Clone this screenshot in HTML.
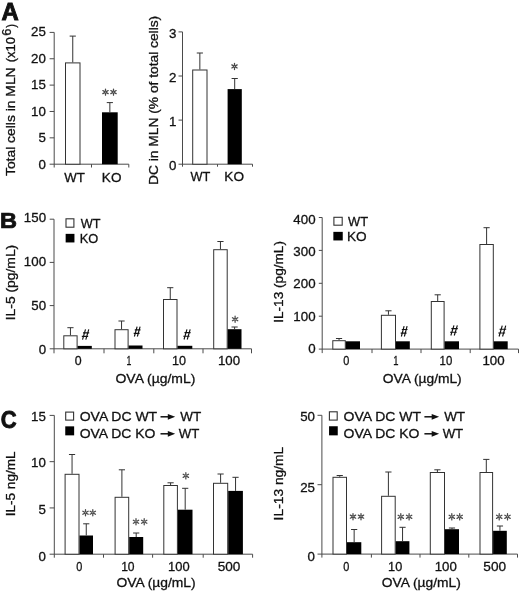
<!DOCTYPE html>
<html><head><meta charset="utf-8"><style>
html,body{margin:0;padding:0;background:#fff;}
svg{display:block;filter:blur(0.3px);}
text{font-family:"Liberation Sans",sans-serif;stroke:#111;stroke-width:0.3px;}
</style></head><body>
<svg width="520" height="592" viewBox="0 0 520 592">
<rect width="520" height="592" fill="#fff"/>
<text transform="translate(1.45,19.80) scale(0.9938,1.0006)" font-size="24" font-weight="bold" fill="#111" style="stroke-width:0.91px">A</text>
<line x1="54.20" y1="32.40" x2="54.20" y2="167.50" stroke="#4a4a4a" stroke-width="1"/>
<line x1="49.60" y1="32.40" x2="54.20" y2="32.40" stroke="#4a4a4a" stroke-width="1"/>
<line x1="49.60" y1="58.76" x2="54.20" y2="58.76" stroke="#4a4a4a" stroke-width="1"/>
<line x1="49.60" y1="85.12" x2="54.20" y2="85.12" stroke="#4a4a4a" stroke-width="1"/>
<line x1="49.60" y1="111.48" x2="54.20" y2="111.48" stroke="#4a4a4a" stroke-width="1"/>
<line x1="49.60" y1="137.84" x2="54.20" y2="137.84" stroke="#4a4a4a" stroke-width="1"/>
<line x1="49.60" y1="164.20" x2="54.20" y2="164.20" stroke="#4a4a4a" stroke-width="1"/>
<line x1="54.20" y1="164.20" x2="128.80" y2="164.20" stroke="#4a4a4a" stroke-width="1"/>
<line x1="91.50" y1="164.20" x2="91.50" y2="167.50" stroke="#4a4a4a" stroke-width="1"/>
<line x1="128.80" y1="164.20" x2="128.80" y2="167.50" stroke="#4a4a4a" stroke-width="1"/>
<text x="31.12" y="36.25" font-size="13.3" fill="#111">25</text>
<text x="31.05" y="62.73" font-size="13.3" fill="#111">20</text>
<text x="31.12" y="89.21" font-size="13.3" fill="#111">15</text>
<text x="31.05" y="115.69" font-size="13.3" fill="#111">10</text>
<text x="38.50" y="142.17" font-size="13.3" fill="#111">5</text>
<text x="38.43" y="168.65" font-size="13.3" fill="#111">0</text>
<rect x="65.50" y="62.90" width="14.50" height="101.30" fill="#fff" stroke="#333" stroke-width="1"/>
<path d="M72.75 62.40V36.10M69.65 36.10H75.85" stroke="#333" stroke-width="1" fill="none"/>
<rect x="102.00" y="112.30" width="15.70" height="51.90" fill="#000"/>
<path d="M109.85 112.30V102.60M106.75 102.60H112.95" stroke="#333" stroke-width="1" fill="none"/>
<path d="M105.50 91.10L105.50 89.00M106.37 91.60L108.18 90.55M106.37 92.60L108.18 93.65M105.50 93.10L105.50 95.20M104.63 92.60L102.82 93.65M104.63 91.60L102.82 90.55" stroke="#4a4a4a" stroke-width="1.25" stroke-linecap="round" fill="none"/>
<path d="M113.50 91.10L113.50 89.00M114.37 91.60L116.18 90.55M114.37 92.60L116.18 93.65M113.50 93.10L113.50 95.20M112.63 92.60L110.82 93.65M112.63 91.60L110.82 90.55" stroke="#4a4a4a" stroke-width="1.25" stroke-linecap="round" fill="none"/>
<text transform="translate(64.20,182.40) scale(0.9894,1.0000)" font-size="13.4"  fill="#111">WT</text>
<text transform="translate(101.87,182.40) scale(1.0102,1.0000)" font-size="13.4"  fill="#111">KO</text>
<text transform="translate(14.80,176.03) rotate(-90) scale(1.0512,1)" font-size="13.2" fill="#111">Total cells in MLN</text>
<text transform="translate(14.80,62.33) rotate(-90) scale(0.9869,1)" font-size="13.2" fill="#111">(x10</text>
<text transform="translate(11.00,35.70) rotate(-90) scale(0.9775,1)" font-size="13.2" fill="#111">6</text>
<text transform="translate(14.80,27.81) rotate(-90) scale(0.8418,1)" font-size="13.2" fill="#111">)</text>
<line x1="182.50" y1="31.90" x2="182.50" y2="166.70" stroke="#4a4a4a" stroke-width="1"/>
<line x1="178.50" y1="31.90" x2="182.50" y2="31.90" stroke="#4a4a4a" stroke-width="1"/>
<line x1="178.50" y1="76.00" x2="182.50" y2="76.00" stroke="#4a4a4a" stroke-width="1"/>
<line x1="178.50" y1="120.10" x2="182.50" y2="120.10" stroke="#4a4a4a" stroke-width="1"/>
<line x1="178.50" y1="164.20" x2="182.50" y2="164.20" stroke="#4a4a4a" stroke-width="1"/>
<line x1="182.50" y1="164.20" x2="252.50" y2="164.20" stroke="#4a4a4a" stroke-width="1"/>
<line x1="217.50" y1="164.20" x2="217.50" y2="166.70" stroke="#4a4a4a" stroke-width="1"/>
<line x1="252.50" y1="164.20" x2="252.50" y2="166.70" stroke="#4a4a4a" stroke-width="1"/>
<text x="169.00" y="38.15" font-size="13.3" fill="#111">3</text>
<text x="169.07" y="82.25" font-size="13.3" fill="#111">2</text>
<text x="169.07" y="126.35" font-size="13.3" fill="#111">1</text>
<text x="168.93" y="170.45" font-size="13.3" fill="#111">0</text>
<rect x="192.70" y="70.00" width="14.30" height="94.20" fill="#fff" stroke="#333" stroke-width="1"/>
<path d="M199.85 69.50V53.00M196.75 53.00H202.95" stroke="#333" stroke-width="1" fill="none"/>
<rect x="227.60" y="89.10" width="14.20" height="75.10" fill="#000"/>
<path d="M234.70 89.10V78.50M231.60 78.50H237.80" stroke="#333" stroke-width="1" fill="none"/>
<path d="M234.50 65.40L234.50 63.30M235.37 65.90L237.18 64.85M235.37 66.90L237.18 67.95M234.50 67.40L234.50 69.50M233.63 66.90L231.82 67.95M233.63 65.90L231.82 64.85" stroke="#4a4a4a" stroke-width="1.25" stroke-linecap="round" fill="none"/>
<text transform="translate(190.45,181.30) scale(0.9529,1.0000)" font-size="13.4"  fill="#111">WT</text>
<text transform="translate(224.36,181.30) scale(1.0158,1.0000)" font-size="13.4"  fill="#111">KO</text>
<text transform="translate(158.20,184.95) rotate(-90) scale(1.0442,1)" font-size="13.2" fill="#111">DC in MLN (% of total cells)</text>
<text transform="translate(0.12,227.90) scale(1.0717,0.9854)" font-size="22" font-weight="bold" fill="#111" style="stroke-width:0.75px">B</text>
<line x1="54.00" y1="219.20" x2="54.00" y2="353.30" stroke="#4a4a4a" stroke-width="1"/>
<line x1="49.70" y1="219.20" x2="54.00" y2="219.20" stroke="#4a4a4a" stroke-width="1"/>
<line x1="49.70" y1="262.40" x2="54.00" y2="262.40" stroke="#4a4a4a" stroke-width="1"/>
<line x1="49.70" y1="305.60" x2="54.00" y2="305.60" stroke="#4a4a4a" stroke-width="1"/>
<line x1="49.70" y1="348.80" x2="54.00" y2="348.80" stroke="#4a4a4a" stroke-width="1"/>
<line x1="54.00" y1="348.80" x2="251.50" y2="348.80" stroke="#4a4a4a" stroke-width="1"/>
<line x1="104.00" y1="348.80" x2="104.00" y2="353.30" stroke="#4a4a4a" stroke-width="1"/>
<line x1="153.80" y1="348.80" x2="153.80" y2="353.30" stroke="#4a4a4a" stroke-width="1"/>
<line x1="203.00" y1="348.80" x2="203.00" y2="353.30" stroke="#4a4a4a" stroke-width="1"/>
<line x1="251.50" y1="348.80" x2="251.50" y2="353.30" stroke="#4a4a4a" stroke-width="1"/>
<text x="23.87" y="222.05" font-size="13.3" fill="#111">150</text>
<text x="23.87" y="265.92" font-size="13.3" fill="#111">100</text>
<text x="31.25" y="309.78" font-size="13.3" fill="#111">50</text>
<text x="38.63" y="353.65" font-size="13.3" fill="#111">0</text>
<rect x="63.80" y="335.80" width="13.30" height="13.00" fill="#fff" stroke="#333" stroke-width="1"/>
<path d="M70.45 335.30V327.70M67.35 327.70H73.55" stroke="#333" stroke-width="1" fill="none"/>
<rect x="77.60" y="345.90" width="14.20" height="2.90" fill="#000"/>
<rect x="115.00" y="329.70" width="13.10" height="19.10" fill="#fff" stroke="#333" stroke-width="1"/>
<path d="M121.55 329.20V321.00M118.45 321.00H124.65" stroke="#333" stroke-width="1" fill="none"/>
<rect x="128.60" y="345.50" width="13.90" height="3.30" fill="#000"/>
<rect x="163.50" y="299.50" width="13.50" height="49.30" fill="#fff" stroke="#333" stroke-width="1"/>
<path d="M170.25 299.00V287.70M167.15 287.70H173.35" stroke="#333" stroke-width="1" fill="none"/>
<rect x="177.50" y="345.80" width="14.80" height="3.00" fill="#000"/>
<rect x="213.70" y="249.70" width="13.50" height="99.10" fill="#fff" stroke="#333" stroke-width="1"/>
<path d="M220.45 249.20V241.50M217.35 241.50H223.55" stroke="#333" stroke-width="1" fill="none"/>
<rect x="227.70" y="329.20" width="13.80" height="19.60" fill="#000"/>
<path d="M234.60 329.20V327.00M231.50 327.00H237.70" stroke="#333" stroke-width="1" fill="none"/>
<path d="M82.54 339.70L85.50 329.40M85.80 339.70L88.76 329.40M82.98 332.80L89.20 332.80M81.80 336.40L88.16 336.40" stroke="#111" stroke-width="1.15" fill="none"/>
<path d="M134.38 336.50L137.10 326.60M137.37 336.50L140.09 326.60M134.79 329.87L140.50 329.87M133.70 333.33L139.55 333.33" stroke="#111" stroke-width="1.15" fill="none"/>
<path d="M184.03 339.50L186.95 329.30M187.24 339.50L190.16 329.30M184.47 332.67L190.60 332.67M183.30 336.24L189.58 336.24" stroke="#111" stroke-width="1.15" fill="none"/>
<path d="M235.10 318.25L235.10 316.15M235.97 318.75L237.78 317.70M235.97 319.75L237.78 320.80M235.10 320.25L235.10 322.35M234.23 319.75L232.42 320.80M234.23 318.75L232.42 317.70" stroke="#4a4a4a" stroke-width="1.25" stroke-linecap="round" fill="none"/>
<rect x="66.00" y="218.80" width="7.90" height="8.40" fill="#fff" stroke="#333" stroke-width="1.1"/>
<text transform="translate(80.75,227.60) scale(0.9480,1.0000)" font-size="13.4"  fill="#111">WT</text>
<rect x="65.65" y="233.85" width="8.80" height="8.60" fill="#000"/>
<text transform="translate(79.72,243.00) scale(0.9591,1.0000)" font-size="13.4"  fill="#111">KO</text>
<text transform="translate(74.72,364.70) scale(0.9232,1.0000)" font-size="13.4"  fill="#111">0</text>
<text transform="translate(126.39,364.70) scale(0.6519,1.0000)" font-size="13.4"  fill="#111">1</text>
<text transform="translate(172.10,364.70) scale(0.9403,1.0000)" font-size="13.4"  fill="#111">10</text>
<text transform="translate(217.96,364.70) scale(0.9886,1.0000)" font-size="13.4"  fill="#111">100</text>
<text transform="translate(115.52,382.50) scale(1.0415,1.0000)" font-size="13.4"  fill="#111">OVA (µg/mL)</text>
<text transform="translate(14.80,320.30) rotate(-90) scale(1.0520,1)" font-size="13.2" fill="#111">IL-5 (pg/mL)</text>
<line x1="322.20" y1="217.50" x2="322.20" y2="353.10" stroke="#4a4a4a" stroke-width="1"/>
<line x1="318.80" y1="217.50" x2="322.20" y2="217.50" stroke="#4a4a4a" stroke-width="1"/>
<line x1="318.80" y1="250.40" x2="322.20" y2="250.40" stroke="#4a4a4a" stroke-width="1"/>
<line x1="318.80" y1="283.30" x2="322.20" y2="283.30" stroke="#4a4a4a" stroke-width="1"/>
<line x1="318.80" y1="316.20" x2="322.20" y2="316.20" stroke="#4a4a4a" stroke-width="1"/>
<line x1="318.80" y1="349.10" x2="322.20" y2="349.10" stroke="#4a4a4a" stroke-width="1"/>
<line x1="322.20" y1="349.10" x2="518.50" y2="349.10" stroke="#4a4a4a" stroke-width="1"/>
<line x1="372.00" y1="349.10" x2="372.00" y2="353.10" stroke="#4a4a4a" stroke-width="1"/>
<line x1="421.00" y1="349.10" x2="421.00" y2="353.10" stroke="#4a4a4a" stroke-width="1"/>
<line x1="470.20" y1="349.10" x2="470.20" y2="353.10" stroke="#4a4a4a" stroke-width="1"/>
<line x1="518.50" y1="349.10" x2="518.50" y2="353.10" stroke="#4a4a4a" stroke-width="1"/>
<text x="293.37" y="223.55" font-size="13.3" fill="#111">400</text>
<text x="293.37" y="255.98" font-size="13.3" fill="#111">300</text>
<text x="293.37" y="288.40" font-size="13.3" fill="#111">200</text>
<text x="293.37" y="320.82" font-size="13.3" fill="#111">100</text>
<text x="308.13" y="353.25" font-size="13.3" fill="#111">0</text>
<rect x="332.80" y="340.70" width="12.50" height="8.40" fill="#fff" stroke="#333" stroke-width="1"/>
<path d="M339.05 340.20V338.50M335.95 338.50H342.15" stroke="#333" stroke-width="1" fill="none"/>
<rect x="345.80" y="341.30" width="14.20" height="7.80" fill="#000"/>
<rect x="381.40" y="315.30" width="14.10" height="33.80" fill="#fff" stroke="#333" stroke-width="1"/>
<path d="M388.45 314.80V310.80M385.35 310.80H391.55" stroke="#333" stroke-width="1" fill="none"/>
<rect x="396.00" y="341.30" width="13.80" height="7.80" fill="#000"/>
<rect x="431.30" y="301.50" width="12.80" height="47.60" fill="#fff" stroke="#333" stroke-width="1"/>
<path d="M437.70 301.00V294.80M434.60 294.80H440.80" stroke="#333" stroke-width="1" fill="none"/>
<rect x="444.60" y="341.30" width="14.40" height="7.80" fill="#000"/>
<rect x="479.90" y="244.50" width="13.40" height="104.60" fill="#fff" stroke="#333" stroke-width="1"/>
<path d="M486.60 244.00V227.70M483.50 227.70H489.70" stroke="#333" stroke-width="1" fill="none"/>
<rect x="493.80" y="341.30" width="13.90" height="7.80" fill="#000"/>
<path d="M401.38 336.50L404.10 326.10M404.37 336.50L407.09 326.10M401.79 329.53L407.50 329.53M400.70 333.17L406.55 333.17" stroke="#111" stroke-width="1.15" fill="none"/>
<path d="M450.87 335.50L453.95 325.30M454.26 335.50L457.34 325.30M451.33 328.67L457.80 328.67M450.10 332.24L456.72 332.24" stroke="#111" stroke-width="1.15" fill="none"/>
<path d="M499.09 336.50L502.25 325.70M502.57 336.50L505.73 325.70M499.56 329.26L506.20 329.26M498.30 333.04L505.09 333.04" stroke="#111" stroke-width="1.15" fill="none"/>
<rect x="333.90" y="217.30" width="8.30" height="7.90" fill="#fff" stroke="#333" stroke-width="1.1"/>
<text transform="translate(348.05,225.60) scale(0.9626,1.0000)" font-size="13.4"  fill="#111">WT</text>
<rect x="333.35" y="231.85" width="9.40" height="8.60" fill="#000"/>
<text transform="translate(346.96,240.50) scale(1.0158,1.0000)" font-size="13.4"  fill="#111">KO</text>
<text transform="translate(343.37,364.70) scale(0.8155,1.0000)" font-size="13.4"  fill="#111">0</text>
<text transform="translate(393.24,364.70) scale(0.7034,1.0000)" font-size="13.4"  fill="#111">1</text>
<text transform="translate(439.59,364.70) scale(0.8507,1.0000)" font-size="13.4"  fill="#111">10</text>
<text transform="translate(482.45,364.70) scale(0.9934,1.0000)" font-size="13.4"  fill="#111">100</text>
<text transform="translate(382.83,382.50) scale(1.0295,1.0000)" font-size="13.4"  fill="#111">OVA (µg/mL)</text>
<text transform="translate(282.60,322.78) rotate(-90) scale(1.0325,1)" font-size="13.2" fill="#111">IL-13 (pg/mL)</text>
<text transform="translate(0.87,427.90) scale(0.9993,1.1020)" font-size="22" font-weight="bold" fill="#111" style="stroke-width:0.80px">C</text>
<line x1="54.30" y1="415.40" x2="54.30" y2="557.70" stroke="#4a4a4a" stroke-width="1"/>
<line x1="49.60" y1="415.40" x2="54.30" y2="415.40" stroke="#4a4a4a" stroke-width="1"/>
<line x1="49.60" y1="461.67" x2="54.30" y2="461.67" stroke="#4a4a4a" stroke-width="1"/>
<line x1="49.60" y1="507.93" x2="54.30" y2="507.93" stroke="#4a4a4a" stroke-width="1"/>
<line x1="49.60" y1="554.20" x2="54.30" y2="554.20" stroke="#4a4a4a" stroke-width="1"/>
<line x1="54.30" y1="554.20" x2="252.60" y2="554.20" stroke="#4a4a4a" stroke-width="1"/>
<line x1="103.50" y1="554.20" x2="103.50" y2="557.70" stroke="#4a4a4a" stroke-width="1"/>
<line x1="152.60" y1="554.20" x2="152.60" y2="557.70" stroke="#4a4a4a" stroke-width="1"/>
<line x1="203.20" y1="554.20" x2="203.20" y2="557.70" stroke="#4a4a4a" stroke-width="1"/>
<line x1="252.60" y1="554.20" x2="252.60" y2="557.70" stroke="#4a4a4a" stroke-width="1"/>
<text x="31.12" y="420.50" font-size="13.3" fill="#111">15</text>
<text x="31.05" y="467.25" font-size="13.3" fill="#111">10</text>
<text x="38.50" y="514.00" font-size="13.3" fill="#111">5</text>
<text x="38.43" y="560.75" font-size="13.3" fill="#111">0</text>
<rect x="65.10" y="474.30" width="13.90" height="79.90" fill="#fff" stroke="#333" stroke-width="1"/>
<path d="M72.05 473.80V454.50M68.95 454.50H75.15" stroke="#333" stroke-width="1" fill="none"/>
<rect x="79.50" y="535.50" width="13.50" height="18.70" fill="#000"/>
<path d="M86.25 535.50V523.80M83.15 523.80H89.35" stroke="#333" stroke-width="1" fill="none"/>
<rect x="115.10" y="497.30" width="13.60" height="56.90" fill="#fff" stroke="#333" stroke-width="1"/>
<path d="M121.90 496.80V469.80M118.80 469.80H125.00" stroke="#333" stroke-width="1" fill="none"/>
<rect x="129.20" y="537.00" width="14.00" height="17.20" fill="#000"/>
<path d="M136.20 537.00V533.00M133.10 533.00H139.30" stroke="#333" stroke-width="1" fill="none"/>
<rect x="163.80" y="485.50" width="13.60" height="68.70" fill="#fff" stroke="#333" stroke-width="1"/>
<path d="M170.60 485.00V482.80M167.50 482.80H173.70" stroke="#333" stroke-width="1" fill="none"/>
<rect x="177.90" y="509.70" width="14.60" height="44.50" fill="#000"/>
<path d="M185.20 509.70V488.30M182.10 488.30H188.30" stroke="#333" stroke-width="1" fill="none"/>
<rect x="213.50" y="483.30" width="14.20" height="70.90" fill="#fff" stroke="#333" stroke-width="1"/>
<path d="M220.60 482.80V474.00M217.50 474.00H223.70" stroke="#333" stroke-width="1" fill="none"/>
<rect x="228.20" y="490.90" width="14.70" height="63.30" fill="#000"/>
<path d="M235.55 490.90V477.30M232.45 477.30H238.65" stroke="#333" stroke-width="1" fill="none"/>
<path d="M85.50 511.75L85.50 509.65M86.37 512.25L88.18 511.20M86.37 513.25L88.18 514.30M85.50 513.75L85.50 515.85M84.63 513.25L82.82 514.30M84.63 512.25L82.82 511.20" stroke="#4a4a4a" stroke-width="1.25" stroke-linecap="round" fill="none"/>
<path d="M92.80 511.75L92.80 509.65M93.67 512.25L95.48 511.20M93.67 513.25L95.48 514.30M92.80 513.75L92.80 515.85M91.93 513.25L90.12 514.30M91.93 512.25L90.12 511.20" stroke="#4a4a4a" stroke-width="1.25" stroke-linecap="round" fill="none"/>
<path d="M136.00 520.75L136.00 518.65M136.87 521.25L138.68 520.20M136.87 522.25L138.68 523.30M136.00 522.75L136.00 524.85M135.13 522.25L133.32 523.30M135.13 521.25L133.32 520.20" stroke="#4a4a4a" stroke-width="1.25" stroke-linecap="round" fill="none"/>
<path d="M144.20 520.75L144.20 518.65M145.07 521.25L146.88 520.20M145.07 522.25L146.88 523.30M144.20 522.75L144.20 524.85M143.33 522.25L141.52 523.30M143.33 521.25L141.52 520.20" stroke="#4a4a4a" stroke-width="1.25" stroke-linecap="round" fill="none"/>
<path d="M185.85 474.80L185.85 472.70M186.72 475.30L188.53 474.25M186.72 476.30L188.53 477.35M185.85 476.80L185.85 478.90M184.98 476.30L183.17 477.35M184.98 475.30L183.17 474.25" stroke="#4a4a4a" stroke-width="1.25" stroke-linecap="round" fill="none"/>
<rect x="65.70" y="412.10" width="7.90" height="8.00" fill="#fff" stroke="#333" stroke-width="1.1"/>
<rect x="65.25" y="426.35" width="8.90" height="9.00" fill="#000"/>
<text transform="translate(79.72,420.90) scale(1.0450,1.0000)" font-size="13.4"  fill="#111">OVA DC WT</text>
<path d="M160.50 416.80H168.30" stroke="#111" stroke-width="1.5"/>
<path d="M167.80 413.90L175.20 416.80L167.80 419.70Z" fill="#111"/>
<text transform="translate(180.25,420.90) scale(1.0064,1.0000)" font-size="13.4"  fill="#111">WT</text>
<text transform="translate(79.72,438.20) scale(1.0421,1.0000)" font-size="13.4"  fill="#111">OVA DC KO</text>
<path d="M160.50 433.80H168.30" stroke="#111" stroke-width="1.5"/>
<path d="M167.80 430.90L175.20 433.80L167.80 436.70Z" fill="#111"/>
<text transform="translate(178.75,438.20) scale(0.9869,1.0000)" font-size="13.4"  fill="#111">WT</text>
<text transform="translate(76.37,570.80) scale(0.8155,1.0000)" font-size="13.4"  fill="#111">0</text>
<text transform="translate(121.14,570.80) scale(0.9030,1.0000)" font-size="13.4"  fill="#111">10</text>
<text transform="translate(168.08,570.80) scale(0.9646,1.0000)" font-size="13.4"  fill="#111">100</text>
<text transform="translate(217.71,570.80) scale(1.0138,1.0000)" font-size="13.4"  fill="#111">500</text>
<text transform="translate(116.43,587.10) scale(1.0335,1.0000)" font-size="13.4"  fill="#111">OVA (µg/mL)</text>
<text transform="translate(14.80,516.37) rotate(-90) scale(1.0307,1)" font-size="13.2" fill="#111">IL-5 ng/mL</text>
<line x1="321.90" y1="415.30" x2="321.90" y2="557.60" stroke="#4a4a4a" stroke-width="1"/>
<line x1="317.50" y1="415.30" x2="321.90" y2="415.30" stroke="#4a4a4a" stroke-width="1"/>
<line x1="317.50" y1="484.70" x2="321.90" y2="484.70" stroke="#4a4a4a" stroke-width="1"/>
<line x1="317.50" y1="554.10" x2="321.90" y2="554.10" stroke="#4a4a4a" stroke-width="1"/>
<line x1="321.90" y1="554.10" x2="517.50" y2="554.10" stroke="#4a4a4a" stroke-width="1"/>
<line x1="371.40" y1="554.10" x2="371.40" y2="557.60" stroke="#4a4a4a" stroke-width="1"/>
<line x1="420.00" y1="554.10" x2="420.00" y2="557.60" stroke="#4a4a4a" stroke-width="1"/>
<line x1="468.80" y1="554.10" x2="468.80" y2="557.60" stroke="#4a4a4a" stroke-width="1"/>
<line x1="517.50" y1="554.10" x2="517.50" y2="557.60" stroke="#4a4a4a" stroke-width="1"/>
<text x="300.15" y="420.60" font-size="13.3" fill="#111">50</text>
<text x="300.22" y="491.70" font-size="13.3" fill="#111">25</text>
<text x="307.53" y="560.50" font-size="13.3" fill="#111">0</text>
<rect x="333.00" y="477.30" width="13.50" height="76.80" fill="#fff" stroke="#333" stroke-width="1"/>
<path d="M339.75 476.80V475.50M336.65 475.50H342.85" stroke="#333" stroke-width="1" fill="none"/>
<rect x="347.00" y="542.20" width="14.30" height="11.90" fill="#000"/>
<path d="M354.15 542.20V529.50M351.05 529.50H357.25" stroke="#333" stroke-width="1" fill="none"/>
<rect x="381.60" y="496.30" width="13.60" height="57.80" fill="#fff" stroke="#333" stroke-width="1"/>
<path d="M388.40 495.80V472.00M385.30 472.00H391.50" stroke="#333" stroke-width="1" fill="none"/>
<rect x="395.70" y="541.20" width="13.70" height="12.90" fill="#000"/>
<path d="M402.55 541.20V527.30M399.45 527.30H405.65" stroke="#333" stroke-width="1" fill="none"/>
<rect x="430.30" y="472.50" width="14.20" height="81.60" fill="#fff" stroke="#333" stroke-width="1"/>
<path d="M437.40 472.00V469.80M434.30 469.80H440.50" stroke="#333" stroke-width="1" fill="none"/>
<rect x="445.00" y="529.20" width="14.00" height="24.90" fill="#000"/>
<path d="M452.00 529.20V528.00M448.90 528.00H455.10" stroke="#333" stroke-width="1" fill="none"/>
<rect x="480.00" y="472.50" width="12.60" height="81.60" fill="#fff" stroke="#333" stroke-width="1"/>
<path d="M486.30 472.00V459.40M483.20 459.40H489.40" stroke="#333" stroke-width="1" fill="none"/>
<rect x="493.10" y="530.80" width="13.70" height="23.30" fill="#000"/>
<path d="M499.95 530.80V526.00M496.85 526.00H503.05" stroke="#333" stroke-width="1" fill="none"/>
<path d="M353.00 515.65L353.00 513.55M353.87 516.15L355.68 515.10M353.87 517.15L355.68 518.20M353.00 517.65L353.00 519.75M352.13 517.15L350.32 518.20M352.13 516.15L350.32 515.10" stroke="#4a4a4a" stroke-width="1.25" stroke-linecap="round" fill="none"/>
<path d="M361.00 515.65L361.00 513.55M361.87 516.15L363.68 515.10M361.87 517.15L363.68 518.20M361.00 517.65L361.00 519.75M360.13 517.15L358.32 518.20M360.13 516.15L358.32 515.10" stroke="#4a4a4a" stroke-width="1.25" stroke-linecap="round" fill="none"/>
<path d="M400.80 515.80L400.80 513.70M401.67 516.30L403.48 515.25M401.67 517.30L403.48 518.35M400.80 517.80L400.80 519.90M399.93 517.30L398.12 518.35M399.93 516.30L398.12 515.25" stroke="#4a4a4a" stroke-width="1.25" stroke-linecap="round" fill="none"/>
<path d="M409.10 515.80L409.10 513.70M409.97 516.30L411.78 515.25M409.97 517.30L411.78 518.35M409.10 517.80L409.10 519.90M408.23 517.30L406.42 518.35M408.23 516.30L406.42 515.25" stroke="#4a4a4a" stroke-width="1.25" stroke-linecap="round" fill="none"/>
<path d="M451.80 515.80L451.80 513.70M452.67 516.30L454.48 515.25M452.67 517.30L454.48 518.35M451.80 517.80L451.80 519.90M450.93 517.30L449.12 518.35M450.93 516.30L449.12 515.25" stroke="#4a4a4a" stroke-width="1.25" stroke-linecap="round" fill="none"/>
<path d="M459.70 515.80L459.70 513.70M460.57 516.30L462.38 515.25M460.57 517.30L462.38 518.35M459.70 517.80L459.70 519.90M458.83 517.30L457.02 518.35M458.83 516.30L457.02 515.25" stroke="#4a4a4a" stroke-width="1.25" stroke-linecap="round" fill="none"/>
<path d="M499.20 515.80L499.20 513.70M500.07 516.30L501.88 515.25M500.07 517.30L501.88 518.35M499.20 517.80L499.20 519.90M498.33 517.30L496.52 518.35M498.33 516.30L496.52 515.25" stroke="#4a4a4a" stroke-width="1.25" stroke-linecap="round" fill="none"/>
<path d="M507.50 515.80L507.50 513.70M508.37 516.30L510.18 515.25M508.37 517.30L510.18 518.35M507.50 517.80L507.50 519.90M506.63 517.30L504.82 518.35M506.63 516.30L504.82 515.25" stroke="#4a4a4a" stroke-width="1.25" stroke-linecap="round" fill="none"/>
<rect x="329.40" y="411.80" width="7.80" height="8.30" fill="#fff" stroke="#333" stroke-width="1.1"/>
<rect x="329.05" y="426.25" width="8.70" height="9.10" fill="#000"/>
<text transform="translate(343.62,420.90) scale(1.0450,1.0000)" font-size="13.4"  fill="#111">OVA DC WT</text>
<path d="M424.40 416.80H432.20" stroke="#111" stroke-width="1.5"/>
<path d="M431.70 413.90L439.10 416.80L431.70 419.70Z" fill="#111"/>
<text transform="translate(444.15,420.90) scale(1.0064,1.0000)" font-size="13.4"  fill="#111">WT</text>
<text transform="translate(343.62,438.20) scale(1.0421,1.0000)" font-size="13.4"  fill="#111">OVA DC KO</text>
<path d="M424.40 433.80H432.20" stroke="#111" stroke-width="1.5"/>
<path d="M431.70 430.90L439.10 433.80L431.70 436.70Z" fill="#111"/>
<text transform="translate(442.65,438.20) scale(0.9869,1.0000)" font-size="13.4"  fill="#111">WT</text>
<text transform="translate(343.37,570.80) scale(0.8155,1.0000)" font-size="13.4"  fill="#111">0</text>
<text transform="translate(388.10,570.80) scale(0.9478,1.0000)" font-size="13.4"  fill="#111">10</text>
<text transform="translate(434.76,570.80) scale(0.9886,1.0000)" font-size="13.4"  fill="#111">100</text>
<text transform="translate(483.30,570.80) scale(1.0185,1.0000)" font-size="13.4"  fill="#111">500</text>
<text transform="translate(381.83,587.10) scale(1.0308,1.0000)" font-size="13.4"  fill="#111">OVA (µg/mL)</text>
<text transform="translate(282.70,520.39) rotate(-90) scale(1.0474,1)" font-size="13.2" fill="#111">IL-13 ng/mL</text>
</svg></body></html>
